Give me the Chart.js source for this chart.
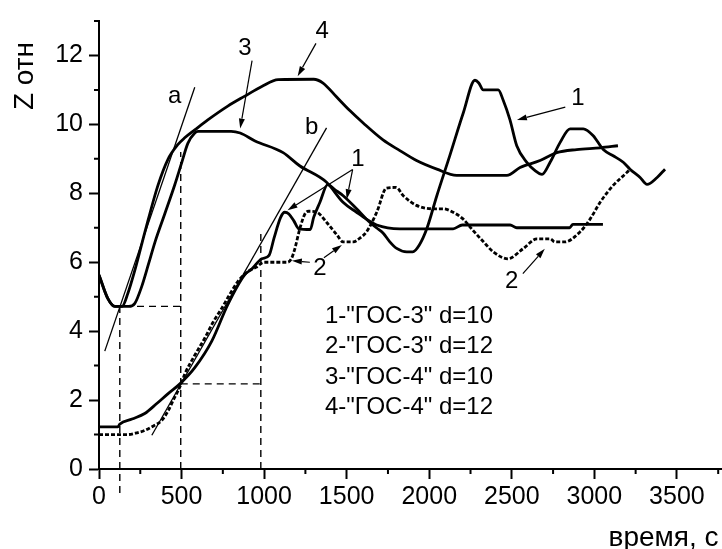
<!DOCTYPE html>
<html>
<head>
<meta charset="utf-8">
<script src="https://cdn.jsdelivr.net/npm/chart.js@4.4.0/dist/chart.umd.min.js"></script>
<style>
  html, body { margin: 0; padding: 0; background: #fff; }
</style>
</head>
<body>
<canvas id="chart" width="722" height="549"></canvas>
<script>
// ===== Data =====
// 1 - "ГОС-3" d=10
const c1X = [0, 114, 125, 200, 277, 350, 417, 490, 580, 683, 780, 883, 925, 986, 1030, 1060, 1100, 1125, 1150, 1180, 1210, 1280, 1300, 1338, 1385, 1430, 1479, 1560, 1620, 1680, 1720, 1760, 1803, 1864, 1900, 1940, 1985, 2046, 2125, 2206, 2277, 2300, 2327, 2418, 2448, 2489, 2530, 2591, 2641, 2683, 2732, 2792, 2853, 2933, 2993, 3054, 3114, 3175, 3216, 3277, 3319, 3380, 3428];
const c1Y = [1.22, 1.22, 1.3, 1.45, 1.61, 1.9, 2.18, 2.47, 2.94, 3.71, 4.77, 5.64, 5.8, 6.1, 6.2, 6.7, 7.3, 7.45, 7.4, 7.2, 6.97, 6.95, 7.3, 7.74, 8.25, 8.1, 7.93, 7.55, 7.25, 7.0, 6.85, 6.6, 6.4, 6.3, 6.3, 6.5, 6.97, 7.93, 9.1, 10.33, 11.28, 11.2, 11.0, 11.0, 10.7, 10.13, 9.38, 8.9, 8.66, 8.55, 8.9, 9.47, 9.87, 9.87, 9.67, 9.27, 9.09, 8.9, 8.7, 8.46, 8.26, 8.46, 8.7];
// 2 - "ГОС-3" d=12
const c2X = [0, 174, 230, 277, 330, 380, 420, 450, 479, 500, 520, 580, 641, 690, 743, 790, 841, 901, 950, 1000, 1140, 1165, 1186, 1216, 1247, 1270, 1320, 1378, 1440, 1478, 1540, 1580, 1620, 1682, 1741, 1800, 1843, 1923, 2023, 2085, 2145, 2206, 2260, 2327, 2388, 2477, 2568, 2653, 2732, 2760, 2820, 2913, 2974, 3035, 3114, 3196, 3216];
const c2Y = [1.0, 1.0, 1.05, 1.12, 1.25, 1.41, 1.7, 2.0, 2.27, 2.5, 2.76, 3.3, 3.8, 4.25, 4.66, 5.05, 5.44, 5.73, 5.85, 6.0, 6.0, 6.1, 6.39, 6.97, 7.4, 7.48, 7.45, 7.16, 6.8, 6.59, 6.59, 6.7, 6.88, 7.45, 8.15, 8.17, 7.93, 7.65, 7.55, 7.55, 7.45, 7.25, 6.95, 6.6, 6.3, 6.1, 6.39, 6.68, 6.68, 6.59, 6.59, 6.88, 7.25, 7.74, 8.23, 8.6, 8.7];
// 3 - "ГОС-4" d=10
const c3X = [0, 53, 96, 180, 216, 259, 300, 340, 398, 459, 501, 538, 580, 600, 800, 855, 945, 1115, 1215, 1378, 1478, 1560, 1620, 1682, 1822, 2145, 2200, 2490, 2530, 2850, 2870, 3052];
const c3Y = [5.63, 4.95, 4.72, 4.72, 4.8, 5.3, 5.95, 6.6, 7.4, 8.25, 8.89, 9.45, 9.75, 9.8, 9.8, 9.75, 9.52, 9.18, 8.8, 8.32, 7.74, 7.45, 7.25, 7.08, 6.97, 6.97, 7.08, 7.08, 7.0, 7.0, 7.1, 7.1];
// 4 - "ГОС-4" d=12
const c4X = [0, 53, 96, 140, 175, 216, 260, 296, 357, 417, 477, 519, 580, 659, 780, 883, 986, 1085, 1300, 1357, 1438, 1519, 1600, 1720, 1822, 1923, 2046, 2166, 2470, 2550, 2671, 2772, 2893, 3035, 3143];
const c4Y = [5.63, 4.95, 4.72, 4.72, 5.1, 5.75, 6.55, 7.2, 8.23, 8.98, 9.41, 9.61, 9.84, 10.13, 10.53, 10.82, 11.1, 11.3, 11.31, 11.2, 10.8, 10.4, 10.04, 9.55, 9.24, 8.95, 8.7, 8.52, 8.52, 8.75, 8.95, 9.18, 9.27, 9.32, 9.38];

// tangents a, b
const tangentA = [[35, 3.42], [580, 11.08]];
const tangentB = [[320, 0.98], [1378, 9.9]];
// dashed guide lines
const guide1 = [[126, -0.7], [126, 4.72], [495, 4.72]];
const guide2 = [[495, 0], [495, 9.2]];
const guide3 = [[495, 2.47], [980, 2.47]];
const guide4 = [[980, 0], [980, 6.9]];

// ticks
const xTicks = [0, 500, 1000, 1500, 2000, 2500, 3000, 3500];
const xMinor = [250, 750, 1250, 1750, 2250, 2750, 3250, 3750];
const yTicks = [0, 2, 4, 6, 8, 10, 12];
const yMinor = [1, 3, 5, 7, 9, 11, 13];

// labels on the plot
const markLabels = [
  { text: 'a', x: 459, y: 10.82 },
  { text: 'b', x: 1288, y: 9.9 },
  { text: '3', x: 884, y: 12.22 },
  { text: '4', x: 1352, y: 12.69 },
  { text: '1', x: 2900, y: 10.76 },
  { text: '1', x: 1568, y: 8.98 },
  { text: '2', x: 1338, y: 5.81 },
  { text: '2', x: 2500, y: 5.44 }
];
// arrows [x1, y1, x2(tip), y2(tip)]
const arrows = [
  [927, 11.85, 855, 9.88],
  [1314, 12.35, 1203, 11.4],
  [2824, 10.5, 2531, 10.13],
  [1536, 8.69, 1142, 7.51],
  [1536, 8.69, 1500, 7.83],
  [1277, 6.0, 1168, 6.04],
  [1362, 6.13, 1471, 6.5],
  [2567, 5.67, 2700, 6.39]
];
const legendLines = ['1-"ГОС-3" d=10', '2-"ГОС-3" d=12', '3-"ГОС-4" d=10', '4-"ГОС-4" d=12'];
const legendPos = { x: 1368, y: 4.43, step: 0.88 };

const xTitle = 'время, с';
const yTitle = 'Z отн';

const FONT = "'Liberation Sans', Arial, sans-serif";

// ===== helpers =====
const toPts = (xs, ys) => xs.map((x, i) => ({ x, y: ys[i] }));
const pairPts = arr => arr.map(p => ({ x: p[0], y: p[1] }));

function curve(xs, ys, dash) {
  return {
    data: toPts(xs, ys), borderColor: '#000', borderWidth: 2.8,
    pointRadius: 0, cubicInterpolationMode: 'monotone', borderDash: dash || []
  };
}
function thin(pts, dash, clip) {
  return {
    data: pairPts(pts), borderColor: '#000', borderWidth: dash ? 1.4 : 1.3,
    pointRadius: 0, borderDash: dash || [], clip: clip === false ? false : undefined
  };
}

// ===== overlay plugin: minor ticks, arrows, labels, titles =====
const overlay = {
  id: 'overlay',
  afterDraw(chart) {
    const { ctx, scales: { x, y }, chartArea } = chart;
    const px = v => x.getPixelForValue(v);
    const py = v => y.getPixelForValue(v);
    ctx.save();
    ctx.strokeStyle = '#000';
    ctx.fillStyle = '#000';

    // minor ticks
    ctx.lineWidth = 2;
    ctx.beginPath();
    xMinor.forEach(v => { ctx.moveTo(px(v), chartArea.bottom); ctx.lineTo(px(v), chartArea.bottom + 5); });
    yMinor.forEach(v => { ctx.moveTo(chartArea.left, py(v)); ctx.lineTo(chartArea.left - 5, py(v)); });
    ctx.stroke();

    // arrows
    ctx.lineWidth = 1.2;
    arrows.forEach(a => {
      const x1 = px(a[0]), y1 = py(a[1]), x2 = px(a[2]), y2 = py(a[3]);
      const ang = Math.atan2(y2 - y1, x2 - x1);
      const len = 10, w = 3;
      const bx = x2 - len * Math.cos(ang), by = y2 - len * Math.sin(ang);
      ctx.beginPath();
      ctx.moveTo(x1, y1); ctx.lineTo(bx, by);
      ctx.stroke();
      ctx.beginPath();
      ctx.moveTo(x2, y2);
      ctx.lineTo(bx + w * Math.sin(ang), by - w * Math.cos(ang));
      ctx.lineTo(bx - w * Math.sin(ang), by + w * Math.cos(ang));
      ctx.closePath();
      ctx.fill();
    });

    // labels
    ctx.font = '24px ' + FONT;
    ctx.textAlign = 'center';
    ctx.textBaseline = 'middle';
    markLabels.forEach(l => ctx.fillText(l.text, px(l.x), py(l.y)));

    // legend text
    ctx.textAlign = 'left';
    legendLines.forEach((t, i) => ctx.fillText(t, px(legendPos.x), py(legendPos.y - i * legendPos.step)));

    // axis titles
    ctx.font = '28px ' + FONT;
    ctx.textAlign = 'right';
    ctx.textBaseline = 'alphabetic';
    ctx.fillText(xTitle, chartArea.right - 3, 546);
    ctx.translate(chartArea.left - 74, chartArea.top + 55);
    ctx.rotate(-Math.PI / 2);
    ctx.textAlign = 'center';
    ctx.textBaseline = 'middle';
    ctx.fillText(yTitle, 0, 0);
    ctx.restore();
  }
};

// ===== Chart =====
const ctx = document.getElementById('chart').getContext('2d');
new Chart(ctx, {
  type: 'line',
  data: {
    datasets: [
      curve(c1X, c1Y),
      curve(c2X, c2Y, [4, 2]),
      curve(c3X, c3Y),
      curve(c4X, c4Y),
      thin(tangentA),
      thin(tangentB),
      thin(guide1, [7, 5], false),
      thin(guide2, [7, 5]),
      thin(guide3, [7, 5]),
      thin(guide4, [7, 5])
    ]
  },
  options: {
    responsive: false,
    animation: false,
    layout: { padding: { top: 18, right: 0.5, left: 0, bottom: 0 } },
    plugins: { legend: { display: false }, tooltip: { enabled: false } },
    scales: {
      x: {
        type: 'linear', min: 0, max: 3770,
        afterBuildTicks: s => { s.ticks = xTicks.map(v => ({ value: v })); },
        afterFit: s => { s.height = 80; },
        grid: { drawOnChartArea: false, tickLength: 10, tickWidth: 2, tickColor: '#000' },
        border: { display: true, color: '#000', width: 2 },
        ticks: { color: '#000', font: { family: FONT, size: 25 }, padding: 3, maxRotation: 0, callback: v => String(v) }
      },
      y: {
        type: 'linear', min: 0, max: 13,
        afterBuildTicks: s => { s.ticks = yTicks.map(v => ({ value: v })); },
        afterFit: s => { s.width = 99; },
        grid: { drawOnChartArea: false, tickLength: 10, tickWidth: 2, tickColor: '#000' },
        border: { display: true, color: '#000', width: 2 },
        ticks: { color: '#000', font: { family: FONT, size: 25 }, padding: 6, callback: v => String(v) }
      }
    }
  },
  plugins: [overlay]
});
</script>
</body>
</html>
